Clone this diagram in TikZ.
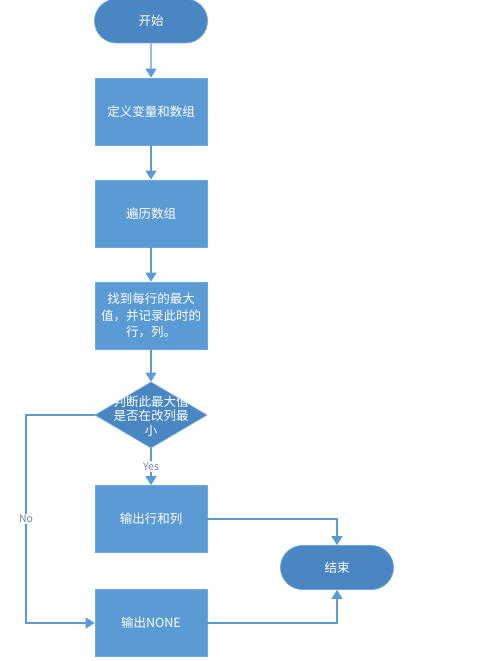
\documentclass[tikz,border=0pt]{standalone}
\usepackage{fontspec}
\setmainfont{Noto Sans CJK SC}
\usetikzlibrary{shapes.geometric,shapes.misc,arrows.meta}
\definecolor{boxblue}{HTML}{5B9BD5}
\definecolor{termblue}{HTML}{4A86C2}
\definecolor{lineblue}{HTML}{5B9BD5}
\definecolor{edgeblue}{HTML}{6FA8DC}
\definecolor{lblgray}{HTML}{7189A6}
\begin{document}
\begin{tikzpicture}[x=1pt,y=-1pt,
  every node/.style={font=\fontsize{12.5}{15}\selectfont, text=white},
  procbox/.style={rectangle, fill=boxblue, draw=edgeblue, line width=0.8pt, minimum width=112pt, minimum height=67pt, inner sep=0pt, align=center},
  termbox/.style={rounded rectangle, fill=termblue, draw=edgeblue, line width=0.8pt, minimum width=113pt, minimum height=44pt, inner sep=0pt},
  decbox/.style={diamond, fill=termblue, draw=edgeblue, line width=0.8pt, minimum width=112pt, minimum height=66pt, inner sep=0pt},
  conn/.style={draw=lineblue, line width=1.4pt, -{Triangle[width=11pt,length=9pt]}},
  lbl/.style={font=\fontsize{10.5}{12}\selectfont, text=lblgray, fill=white, inner sep=1.5pt}
]
\useasboundingbox (0,0) rectangle (478,661);
\node[termbox] (start) at (151,21) {开始};
\node[procbox] (def) at (151,111.5) {定义变量和数组};
\node[procbox] (trav) at (151,213.5) {遍历数组};
\node[procbox, text width=108pt, font=\fontsize{12.5}{16.5}\selectfont] (find) at (151,315.5) {找到每行的最大\\值，并记录此时的\\行，列。};
\node[decbox] (dec) at (151,415) {};
\node[align=center, font=\fontsize{12.5}{14.5}\selectfont, inner sep=0pt] (dectext) at (151,416) {判断此最大值\\是否在改列最\\小};
\node[procbox] (outrc) at (151,519) {输出行和列};
\node[procbox] (outnone) at (151,623) {输出NONE};
\node[termbox] (end) at (337,567.5) {结束};
\coordinate (nocorner1) at (26,415);
\coordinate (nocorner2) at (26,623);
\coordinate (c1) at (337,519);
\coordinate (c2) at (337,623);

\draw[conn] (start) -- (def);
\draw[conn] (def) -- (trav);
\draw[conn] (trav) -- (find);
\draw[conn] (find) -- (dec);
\draw[conn] (dec) -- node[lbl, pos=0.5] (yes) {Yes} (outrc);
\draw[conn] (dec.west) -- (nocorner1) -- node[lbl, pos=0.5] (no) {No} (nocorner2) -- (outnone.west);
\draw[conn] (outrc.east) -- (c1) -- (end.north);
\draw[conn] (outnone.east) -- (c2) -- (end.south);
\end{tikzpicture}
\end{document}
